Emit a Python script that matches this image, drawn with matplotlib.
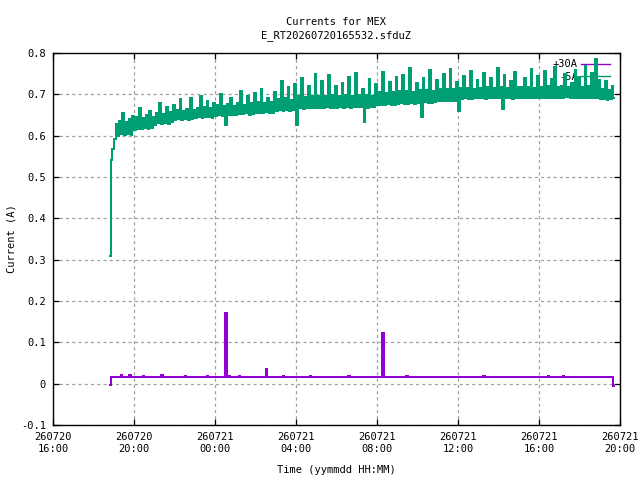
import numpy as np
import pandas as pd
import matplotlib
matplotlib.use("Agg")
import matplotlib.pyplot as plt
import matplotlib.dates as mdates
from matplotlib.ticker import FuncFormatter, MultipleLocator

# Dados (corrente em mA, amostras a cada 5 min a partir de 18:48)
inicio = "2026-07-20 18:48"
passo_min = 5

menos5a_ma = [
    310, 540, 568,
    592, 628, 600, 636, 603, 655, 601, 632, 604, 640, 602, 648,
    614, 645, 617, 668, 615, 642, 618, 650, 616, 660, 619, 646,
    627, 656, 630, 680, 628, 652, 631, 670, 629, 657, 632, 675,
    637, 663, 640, 688, 638, 660, 641, 665, 639, 690, 640, 662,
    642, 668, 645, 695, 643, 670, 644, 685, 646, 667, 643, 680,
    648, 673, 650, 700, 647, 672, 625, 676, 649, 692, 650, 671,
    651, 678, 653, 708, 652, 675, 654, 695, 651, 679, 653, 703,
    655, 681, 656, 712, 654, 678, 657, 690, 655, 682, 656, 706,
    660, 688, 661, 733, 659, 690, 662, 718, 660, 686, 661, 726,
    626, 695, 667, 740, 665, 694, 668, 721, 666, 697, 667, 748,
    667, 697, 668, 733, 666, 695, 669, 746, 667, 698, 668, 719,
    668, 697, 669, 728, 667, 698, 670, 741, 668, 696, 669, 752,
    669, 698, 670, 712, 632, 699, 668, 738, 670, 697, 669, 724,
    674, 705, 675, 754, 673, 703, 676, 731, 674, 706, 675, 742,
    677, 707, 678, 746, 676, 708, 677, 764, 678, 706, 676, 727,
    680, 710, 645, 739, 681, 711, 679, 758, 680, 709, 682, 734,
    684, 713, 685, 748, 683, 714, 684, 761, 685, 712, 684, 729,
    659, 715, 689, 744, 690, 716, 688, 757, 689, 714, 690, 735,
    690, 716, 691, 751, 689, 717, 690, 739, 691, 715, 690, 763,
    690, 717, 665, 747, 691, 716, 690, 733, 689, 755, 691, 718,
    691, 717, 690, 740, 692, 718, 691, 762, 690, 716, 691, 745,
    691, 718, 692, 756, 690, 719, 691, 737, 692, 766, 690, 717,
    692, 719, 691, 749, 693, 718, 692, 727, 691, 760, 692, 741,
    691, 718, 692, 768, 690, 719, 691, 752, 692, 786, 691, 735,
    688, 712, 689, 732, 687, 711, 688, 720, 690,
]

mais30a_ma = [
    -4, 15, 16,
    16, 16, 17, 16, 20, 16, 16, 15, 16, 21, 16, 16,
    16, 15, 16, 16, 16, 19, 16, 16, 17, 16, 16, 16,
    16, 16, 15, 16, 20, 16, 16, 16, 17, 16, 15, 16,
    16, 16, 16, 16, 16, 16, 19, 16, 16, 16, 17, 16,
    16, 17, 16, 16, 16, 16, 16, 18, 16, 16, 16, 16,
    16, 16, 16, 17, 16, 16, 171, 16, 19, 16, 16, 17,
    16, 16, 18, 16, 16, 16, 16, 17, 16, 16, 16, 16,
    16, 17, 16, 16, 16, 16, 35, 16, 16, 17, 16, 16,
    16, 16, 16, 16, 19, 16, 16, 16, 16, 16, 17, 16,
    16, 16, 17, 16, 16, 16, 16, 16, 18, 16, 16, 16,
    16, 16, 16, 16, 17, 16, 16, 16, 16, 16, 16, 17,
    16, 17, 16, 16, 16, 16, 16, 18, 16, 16, 16, 16,
    16, 16, 16, 16, 16, 17, 16, 16, 16, 16, 16, 16,
    16, 16, 16, 123, 16, 17, 16, 16, 16, 16, 16, 16,
    17, 16, 16, 16, 16, 19, 16, 16, 17, 16, 16, 16,
    16, 16, 17, 16, 16, 16, 16, 16, 16, 17, 16, 16,
    16, 16, 16, 16, 16, 16, 16, 17, 16, 16, 16, 16,
    16, 17, 16, 16, 16, 16, 16, 16, 16, 16, 17, 16,
    16, 16, 16, 18, 16, 16, 16, 16, 16, 17, 16, 16,
    16, 16, 16, 16, 16, 16, 17, 16, 16, 16, 16, 16,
    17, 16, 16, 16, 16, 17, 16, 16, 16, 16, 16, 16,
    16, 16, 17, 16, 16, 19, 16, 17, 16, 16, 16, 16,
    16, 16, 18, 16, 16, 17, 16, 16, 16, 17, 16, 16,
    16, 16, 16, 17, 16, 16, 16, 17, 16, 16, 16, 16,
    17, 16, 16, 16, 16, 16, 16, 17, -5,
]

tempo_verde = pd.date_range(inicio, periods=len(menos5a_ma), freq=f"{passo_min}min")
tempo_roxo = pd.date_range(inicio, periods=len(mais30a_ma), freq=f"{passo_min}min")
menos5a = np.array(menos5a_ma) / 1000.0
mais30a = np.array(mais30a_ma) / 1000.0

plt.rcParams["font.family"] = "DejaVu Sans Mono"
plt.rcParams["font.size"] = 7.5
plt.rcParams["path.simplify"] = False

fig = plt.figure(figsize=(6.4, 4.8), dpi=100)
ax = fig.add_axes([53 / 640, 55 / 480, 567 / 640, 372 / 480])

# Curvas (roxo primeiro, verde por cima), sem antialias como no gnuplot
ax.plot(tempo_roxo, mais30a, color="#9400d3", lw=1.1, label="+30A",
        drawstyle="steps-mid", antialiased=False, zorder=3)
ax.plot(tempo_verde, menos5a, color="#009e73", lw=1.2, label="-5A",
        drawstyle="steps-mid", antialiased=False, zorder=4)

ax.set_xlim(pd.Timestamp("2026-07-20 16:00"), pd.Timestamp("2026-07-21 20:00"))
ax.set_ylim(-0.1, 0.8)
ax.xaxis.set_major_locator(mdates.HourLocator(byhour=range(0, 24, 4)))
ax.xaxis.set_major_formatter(mdates.DateFormatter("%y%m%d\n%H:%M"))
ax.yaxis.set_major_locator(MultipleLocator(0.1))
ax.yaxis.set_major_formatter(FuncFormatter(lambda v, p: "%g" % round(v, 3)))

ax.grid(True, color="#a0a0a0", linestyle=(0, (2.5, 2.5)), linewidth=0.9, zorder=0)
ax.tick_params(direction="in", length=4, width=0.9, top=True, right=True,
               labelsize=7.5, pad=5, colors="black")
for s in ax.spines.values():
    s.set_linewidth(1.0)

ax.set_title("Currents for MEX\nE_RT20260720165532.sfduZ", fontsize=7.5, pad=11,
             linespacing=1.3)
ax.set_xlabel("Time (yymmdd HH:MM)", fontsize=7.5, labelpad=8)
ax.set_ylabel("Current (A)", fontsize=7.5, labelpad=3)

leg = ax.legend(loc="upper right", frameon=False, markerfirst=False,
                handlelength=2.8, handletextpad=0.3, labelspacing=0.25,
                borderaxespad=0.3, fontsize=7.5, bbox_to_anchor=(0.995, 1.003))
leg.set_zorder(2)
for linha in leg.get_lines():
    linha.set_linewidth(1.0)

fig.savefig("out.png", dpi=100)
